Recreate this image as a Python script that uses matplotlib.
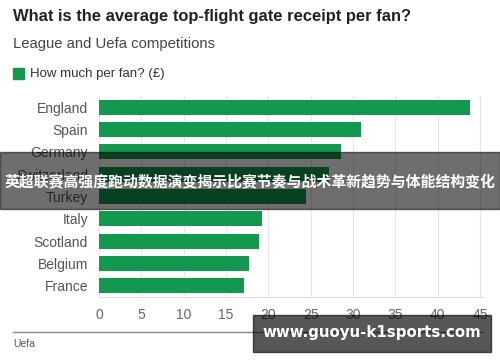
import matplotlib
matplotlib.use("Agg")
import matplotlib.pyplot as plt
from matplotlib.patches import Rectangle

# data
countries = ["England", "Spain", "Germany", "Switzerland", "Turkey",
             "Italy", "Scotland", "Belgium", "France"]
per_fan = [43.8, 30.9, 28.6, 27.2, 24.5, 19.3, 18.9, 17.7, 17.1]
x_ticks = [0, 5, 10, 15, 20, 25, 30, 35, 40, 45]

W, H = 500, 362
GREEN = "#13984f"

plt.rcParams["font.family"] = ["Liberation Sans", "DejaVu Sans"]

fig = plt.figure(figsize=(W / 100, H / 100), dpi=100)
fig.patch.set_facecolor("white")


def fx(px):
    return px / W


def fy(py):
    return 1 - py / H


ax = fig.add_axes([fx(99), fy(297), fx(483.4) - fx(99), fy(96) - fy(297)])
y_pos = list(range(len(countries)))
ax.barh(y_pos, per_fan, height=0.68, color=GREEN, zorder=3)
ax.set_ylim(len(countries) - 0.5, -0.5)
ax.set_xlim(0, 45.4)
ax.set_yticks(y_pos)
ax.set_yticklabels(countries, fontsize=10, color="#555555")
ax.set_xticks(x_ticks)
ax.set_xticklabels([str(t) for t in x_ticks], fontsize=10, color="#666666")
ax.tick_params(axis="y", length=0, pad=8)
ax.tick_params(axis="x", length=0, pad=8)
ax.grid(axis="x", color="#e6e6e6", linewidth=0.8, zorder=0)
for s in ["top", "right", "left"]:
    ax.spines[s].set_visible(False)
ax.spines["bottom"].set_color("#dddddd")
ax.spines["bottom"].set_linewidth(0.8)

# titles and legend
fig.text(fx(13), fy(17), "What is the average top-flight gate receipt per fan?",
         fontsize=11.9, fontweight="bold", color="#222222", va="center")
fig.text(fx(13), fy(44), "League and Uefa competitions",
         fontsize=10.7, color="#444444", va="center")
fig.patches.append(Rectangle((fx(13), fy(79)), fx(11), fy(68) - fy(79),
                             transform=fig.transFigure, color=GREEN))
fig.text(fx(30), fy(73.5), "How much per fan? (£)", fontsize=9.5, color="#333333", va="center")

# footer
fig.add_artist(plt.Line2D([fx(13), fx(483)], [fy(332), fy(332)],
                          transform=fig.transFigure, color="#888888", linewidth=1))
fig.text(fx(13), fy(344), "Uefa", fontsize=7.5, color="#555555", va="center")

# overlays
fig.patches.append(Rectangle((0, fy(209)), 1, fy(152) - fy(209),
                             transform=fig.transFigure, color="black", alpha=0.57, zorder=10))
fig.text(0.5, fy(181), "英超联赛高强度跑动数据演变揭示比赛节奏与战术革新趋势与体能结构变化",
         family=["Noto Sans CJK SC", "DejaVu Sans"], fontsize=10.7, fontweight="bold",
         color="white", ha="center", va="center", zorder=11)
fig.patches.append(Rectangle((fx(253), fy(352)), fx(491) - fx(253), fy(315) - fy(352),
                             transform=fig.transFigure, color="black", alpha=0.66, zorder=10))
fig.text(fx(372), fy(333), "www.guoyu-k1sports.com", family=["DejaVu Sans"],
         fontsize=10.8, fontweight="bold", color="white", ha="center", va="center", zorder=11)

fig.savefig("out.png", dpi=100)
